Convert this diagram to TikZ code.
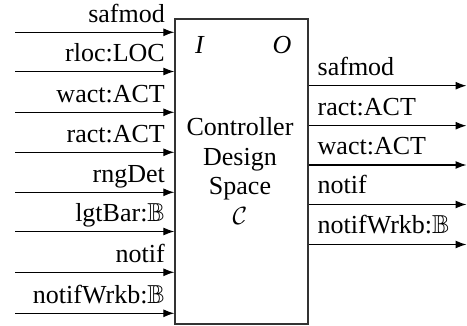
\documentclass[tikz,border=0pt]{standalone}
\usepackage{amssymb}
\usepackage{fontspec}
\setmainfont{Liberation Serif}
\usetikzlibrary{arrows.meta}
\begin{document}
\begin{tikzpicture}[x=1pt,y=-1pt,
  lbl/.style={font=\fontsize{26}{30}\selectfont, inner sep=0pt},
  sig/.style={line width=1.2pt, -{Latex[length=11pt,width=8pt]}},
  boxst/.style={draw=black!80, line width=1.3pt, minimum width=133pt, minimum height=305pt, inner sep=0pt}]
\useasboundingbox (0,0) rectangle (467,326);
\node[boxst] (box) at (241.5,171.5) {};
\node[lbl, anchor=base] (I) at (200,54) {\textit{I}};
\node[lbl, anchor=base] (O) at (282,54) {\textit{O}};
\node[lbl, align=center, font=\fontsize{26}{29.5}\selectfont] (title) at (240,171) {Controller\\Design\\Space\\$\mathcal{C}$};
% left inputs
\foreach \y/\t [count=\i] in {32.3/safmod, 71.5/rloc:LOC, 112.3/wact:ACT, 152.3/ract:ACT, 192.3/rngDet, 231.5/lgtBar:$\mathbb{B}$, 272.3/notif, 313.3/notifWrkb:$\mathbb{B}$}{
  \coordinate (li\i) at (15,\y);
  \node[lbl, anchor=base east] (lt\i) at (165,\y-10) {\t};
  \draw[sig] (li\i) -- (li\i -| box.west);
}
% right outputs
\foreach \y/\t [count=\i] in {85.7/safmod, 125.7/ract:ACT, 165/wact:ACT, 204.5/notif, 244.5/notifWrkb:$\mathbb{B}$}{
  \coordinate (ro\i) at (466.5,\y);
  \node[lbl, anchor=base west] (rt\i) at (317.5,\y-10.5) {\t};
  \draw[sig] (ro\i -| box.east) -- (ro\i);
}
\end{tikzpicture}
\end{document}
